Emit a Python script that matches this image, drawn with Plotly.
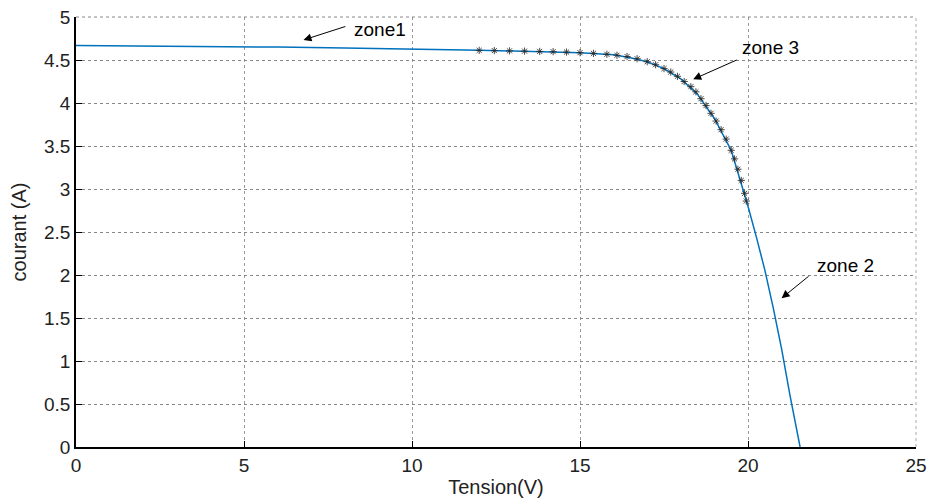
import plotly.graph_objects as go

# Main I-V curve
tension = [0, 2, 4, 6, 8, 10, 12, 13, 14, 15, 15.5, 16, 16.5, 17, 17.5, 18, 18.5,
           19, 19.5, 20, 20.25, 20.5, 20.75, 21, 21.25, 21.55]
courant = [4.67, 4.665, 4.66, 4.65, 4.64, 4.63, 4.612, 4.605, 4.598, 4.585, 4.574,
           4.56, 4.525, 4.48, 4.40, 4.28, 4.10, 3.82, 3.45, 2.80, 2.44, 2.06, 1.62,
           1.14, 0.60, 0.0]

# Marker points (zone 3)
tension_m = [12.0, 12.45, 12.9, 13.35, 13.8, 14.2, 14.6, 15.0, 15.4, 15.8, 16.1, 16.4,
             16.7, 17.0, 17.25, 17.5, 17.7, 17.9, 18.1, 18.3, 18.45, 18.6, 18.75, 18.9,
             19.05, 19.2, 19.35, 19.5, 19.6, 19.7, 19.8, 19.9, 19.95]
courant_m = [4.612, 4.609, 4.606, 4.603, 4.600, 4.597, 4.592, 4.585, 4.577, 4.566, 4.555,
             4.540, 4.515, 4.48, 4.445, 4.40, 4.36, 4.31, 4.25, 4.19, 4.13, 4.05, 3.97,
             3.88, 3.79, 3.69, 3.58, 3.45, 3.35, 3.23, 3.10, 2.95, 2.86]

x_ticks = [0, 5, 10, 15, 20, 25]
y_ticks = [0, 0.5, 1, 1.5, 2, 2.5, 3, 3.5, 4, 4.5, 5]

FONT = "Liberation Sans, Arial, sans-serif"

fig = go.Figure()
fig.add_trace(go.Scatter(x=tension, y=courant, mode="lines",
                         line=dict(color="#0072BD", width=1.5), showlegend=False))
fig.add_trace(go.Scatter(x=tension_m, y=courant_m, mode="markers",
                         marker=dict(symbol="asterisk-open", size=6, color="rgba(40,40,40,0.85)",
                                     line=dict(width=1, color="rgba(40,40,40,0.85)")),
                         showlegend=False))

# annotations: arrows (head, tail) and text
arrows = [
    dict(hx=6.77, hy=4.733, tx=8.06, ty=4.895, text="zone1", lx=8.2, ly=4.86),
    dict(hx=18.37, hy=4.276, tx=19.71, ty=4.508, text="zone 3", lx=19.76, ly=4.64),
    dict(hx=21.0, hy=1.73, tx=21.85, ty=2.0, text="zone 2", lx=21.99, ly=2.105),
]
for a in arrows:
    fig.add_annotation(x=a["hx"], y=a["hy"], ax=a["tx"], ay=a["ty"], xref="x", yref="y",
                       axref="x", ayref="y", text="", showarrow=True, arrowhead=2,
                       arrowsize=1.6, arrowwidth=1, arrowcolor="black")
    fig.add_annotation(x=a["lx"], y=a["ly"], xref="x", yref="y", text=a["text"],
                       showarrow=False, xanchor="left", yanchor="middle",
                       font=dict(family=FONT, size=19, color="black"))

# top and right frame as dotted grid lines
fig.add_shape(type="line", xref="paper", yref="paper", x0=0, x1=1, y0=1, y1=1,
              line=dict(color="#888", width=1, dash="3px,3px"))
fig.add_shape(type="line", xref="paper", yref="paper", x0=1, x1=1, y0=0, y1=1,
              line=dict(color="#aaa", width=1, dash="dot"))

fig.update_layout(
    width=930, height=500,
    margin=dict(l=76, r=14, t=17, b=53),
    plot_bgcolor="white", paper_bgcolor="white",
    font=dict(family=FONT, size=19, color="#222"),
)
fig.update_xaxes(range=[0, 25], tickvals=x_ticks, ticks="inside", ticklen=6,
                 tickcolor="black", showline=True, linecolor="black", linewidth=1.5,
                 showgrid=True, gridcolor="#999", griddash="dot", gridwidth=1,
                 zeroline=False, automargin=False,
                 title=dict(text="Tension(V)", standoff=5, font=dict(size=20, family=FONT)),
                 tickfont=dict(size=19, family=FONT))
fig.update_yaxes(range=[0, 5], tickvals=y_ticks, ticks="inside", ticklen=6,
                 tickcolor="black", showline=True, linecolor="black", linewidth=1.5,
                 showgrid=True, gridcolor="#888", griddash="3px,3px", gridwidth=1,
                 zeroline=False, automargin=False,
                 title=dict(text="courant (A)", standoff=12, font=dict(size=20, family=FONT)),
                 tickfont=dict(size=19, family=FONT))

fig.write_html("out.html")
